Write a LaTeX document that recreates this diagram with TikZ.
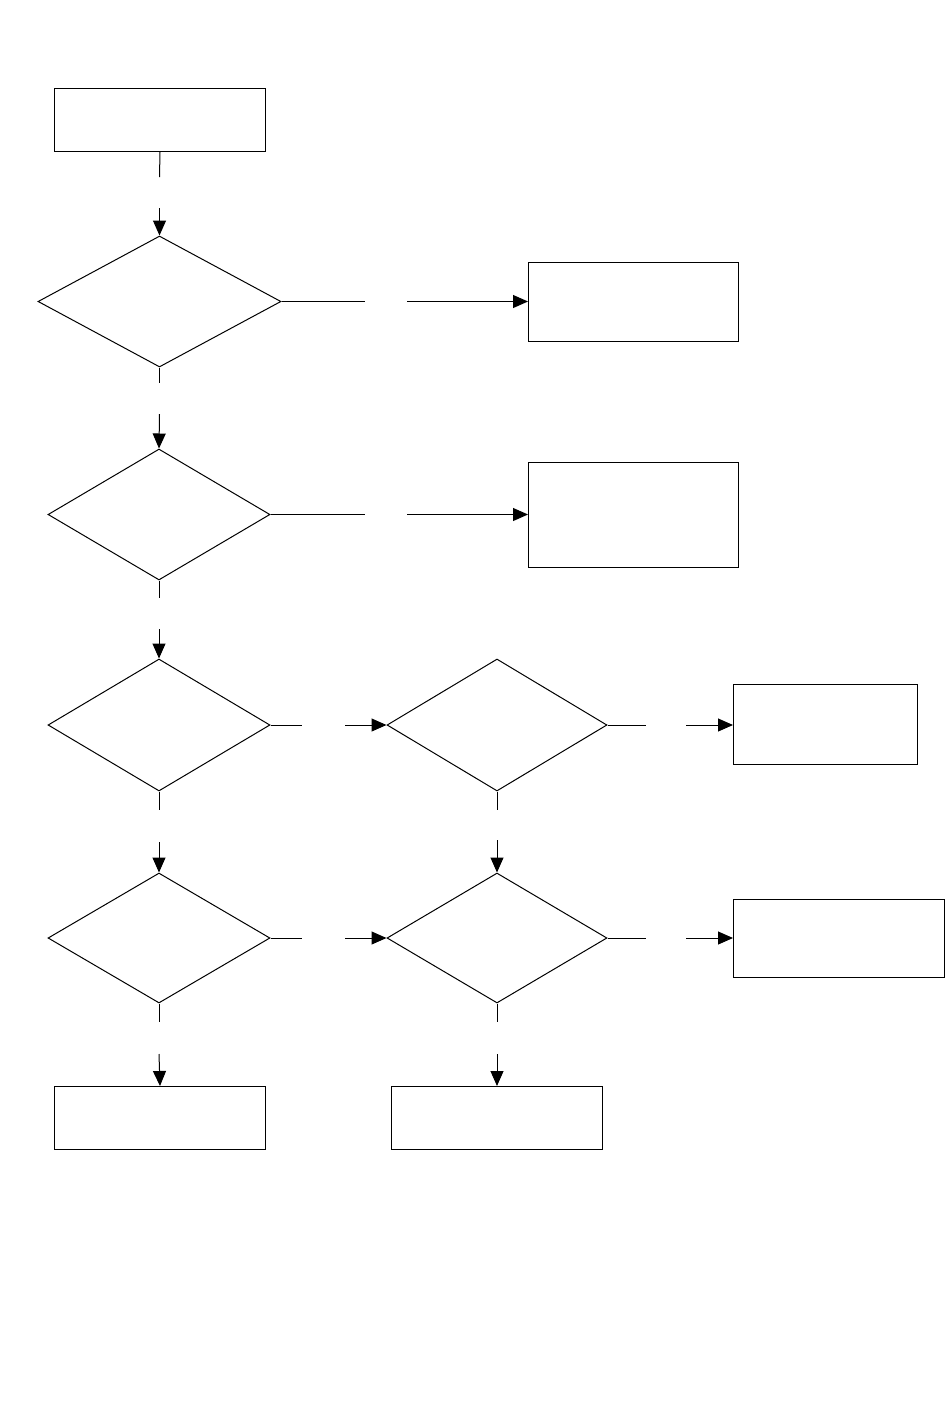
\documentclass[tikz,border=0pt]{standalone}
\usetikzlibrary{shapes.geometric,arrows.meta}
\begin{document}
\begin{tikzpicture}[x=1pt,y=-1pt,line width=1pt,
  box/.style={draw,rectangle,inner sep=0pt,anchor=north west},
  dia/.style={draw,diamond,inner sep=0pt,minimum width=222pt,minimum height=131pt},
  seg/.style={draw},
  arr/.style={draw,-{Triangle[length=15pt,width=13pt]}}]
\useasboundingbox (0,0) rectangle (950,1409);
% boxes
\node[box,minimum width=211pt,minimum height=63pt] (b1) at (54,88) {};
\node[box,minimum width=210pt,minimum height=79pt] (b2) at (528,262) {};
\node[box,minimum width=210pt,minimum height=105pt] (b3) at (528,462) {};
\node[box,minimum width=184pt,minimum height=80pt] (b4) at (733,684) {};
\node[box,minimum width=211pt,minimum height=78pt] (b5) at (733,899) {};
\node[box,minimum width=211pt,minimum height=63pt] (b6) at (54,1086) {};
\node[box,minimum width=211pt,minimum height=63pt] (b7) at (391,1086) {};
% diamonds
\node[dia,minimum width=243pt] (d1) at (159.5,301.5) {};
\node[dia] (d2) at (159,514.5) {};
\node[dia,minimum height=132pt] (d3) at (159,725) {};
\node[dia,minimum width=220pt,minimum height=132pt] (d4) at (497,725) {};
\node[dia,minimum height=130pt] (d5) at (159,938) {};
\node[dia,minimum width=220pt,minimum height=130pt] (d6) at (497,938) {};
% gap coordinates
\coordinate (g1a) at (159.5,177); \coordinate (g1b) at (159.5,208);
\coordinate (g2a) at (365,301.5); \coordinate (g2b) at (407,301.5);
\coordinate (g3a) at (159.5,383); \coordinate (g3b) at (159.5,414);
\coordinate (g4a) at (365,514.5); \coordinate (g4b) at (407,514.5);
\coordinate (g5a) at (159,598); \coordinate (g5b) at (159,629);
\coordinate (g6a) at (302,725); \coordinate (g6b) at (345,725);
\coordinate (g7a) at (646,725); \coordinate (g7b) at (686,725);
\coordinate (g8a) at (159,810); \coordinate (g8b) at (159,842);
\coordinate (g9a) at (497,810); \coordinate (g9b) at (497,840);
\coordinate (g10a) at (302,938); \coordinate (g10b) at (345,938);
\coordinate (g11a) at (646,938); \coordinate (g11b) at (686,938);
\coordinate (g12a) at (159,1022); \coordinate (g12b) at (159,1054);
\coordinate (g13a) at (497,1022); \coordinate (g13b) at (497,1054);
% connectors
\path[seg] (b1.south) -- (g1a); \path[arr] (g1b) -- (d1.north);
\path[seg] (d1.east) -- (g2a); \path[arr] (g2b) -- (b2.west |- g2b);
\path[seg] (d1.south) -- (g3a); \path[arr] (g3b) -- (d2.north);
\path[seg] (d2.east) -- (g4a); \path[arr] (g4b) -- (b3.west |- g4b);
\path[seg] (d2.south) -- (g5a); \path[arr] (g5b) -- (d3.north);
\path[seg] (d3.east) -- (g6a); \path[arr] (g6b) -- (d4.west);
\path[seg] (d4.east) -- (g7a); \path[arr] (g7b) -- (b4.west |- g7b);
\path[seg] (d3.south) -- (g8a); \path[arr] (g8b) -- (d5.north);
\path[seg] (d4.south) -- (g9a); \path[arr] (g9b) -- (d6.north);
\path[seg] (d5.east) -- (g10a); \path[arr] (g10b) -- (d6.west);
\path[seg] (d6.east) -- (g11a); \path[arr] (g11b) -- (b5.west |- g11b);
\path[seg] (d5.south) -- (g12a); \path[arr] (g12b) -- (b6.north);
\path[seg] (d6.south) -- (g13a); \path[arr] (g13b) -- (b7.north);
\end{tikzpicture}
\end{document}
